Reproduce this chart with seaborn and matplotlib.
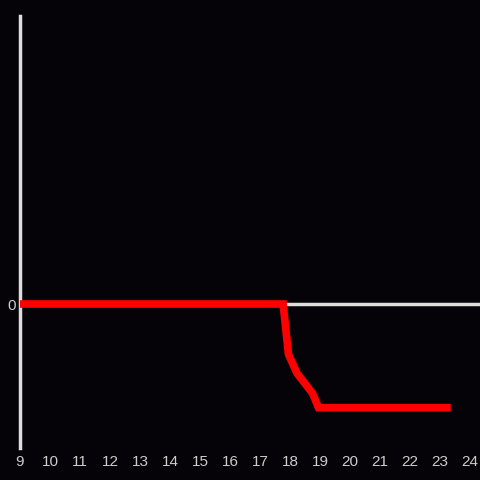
import matplotlib
matplotlib.use("Agg")
import matplotlib.pyplot as plt
import seaborn as sns
import pandas as pd

hours = [9.0, 17.77, 17.95, 18.23, 18.75, 18.95, 23.23]
values = [0.0, 0.0, -0.35, -0.48, -0.62, -0.72, -0.72]
xticks = list(range(9, 25))
yticks = [0]

sns.set_theme(style="dark")
plt.rcParams["font.family"] = ["Liberation Sans", "DejaVu Sans"]
bg = "#050308"
fig = plt.figure(figsize=(4.8, 4.8), dpi=100, facecolor=bg)
ax = fig.add_axes([20/480, 32/480, 460/480, 432/480])
ax.set_facecolor(bg)

df = pd.DataFrame({"hour": hours, "value": values})
ax.axhline(0, color="#dddddd", lw=2.5, zorder=1)
sns.lineplot(data=df, x="hour", y="value", color="#ff0000", lw=5.5, ax=ax,
             zorder=3, solid_joinstyle="miter", solid_capstyle="projecting")

ax.set_xlim(9, 24.333)
ax.set_ylim(-1, 2)
ax.set_xticks(xticks)
ax.set_xticklabels([str(t) for t in xticks])
ax.set_yticks(yticks)
ax.set_yticklabels(["0"])
ax.tick_params(axis="both", colors="#cccccc", labelsize=11, length=0, pad=4)
ax.tick_params(axis="x", pad=5)
ax.tick_params(axis="y", pad=3)
ax.set_xlabel("")
ax.set_ylabel("")
ax.grid(False)
for s in ["top", "right", "bottom"]:
    ax.spines[s].set_visible(False)
ax.spines["left"].set_color("#dddddd")
ax.spines["left"].set_linewidth(2.5)

fig.savefig("out.png", dpi=100, facecolor=bg)
